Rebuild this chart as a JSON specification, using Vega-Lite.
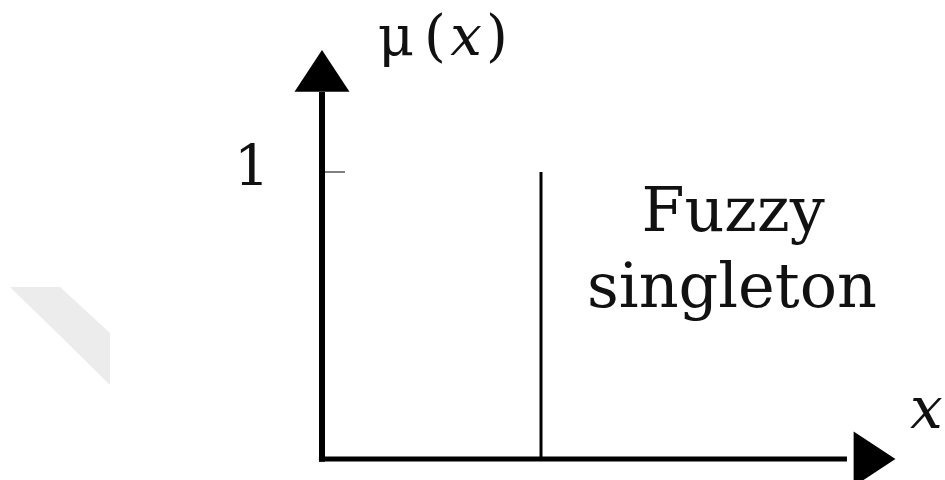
{
  "$schema": "https://vega.github.io/schema/vega-lite/v6.json",
  "width": 945,
  "height": 480,
  "padding": 0,
  "autosize": {"type": "none"},
  "background": "white",
  "config": {"view": {"stroke": null}},
  "datasets": {
    "wm": [
      {"x": -1.425, "y": 0.599, "y2": 0.599},
      {"x": -1.196, "y": 0.599, "y2": 0.429},
      {"x": -0.968, "y": 0.439, "y2": 0.258}
    ],
    "yaxis": [{"x": 0, "y": -0.01, "y2": 1.279}],
    "xaxis": [{"x": -0.014, "x2": 2.397, "y": 0}],
    "tick": [{"x": 0.0137, "x2": 0.105, "y": 1}],
    "single": [{"x": 1, "y": 0, "y2": 1}],
    "arrowUp": [{"x": 0, "y": 1.352}],
    "arrowRight": [{"x": 2.523, "y": 0}],
    "bigText": [
      {"x": 1.877, "y": 0.794, "label": "Fuzzy"},
      {"x": 1.872, "y": 0.53, "label": "singleton"}
    ],
    "plainText": [
      {"x": -0.32, "y": 0.955, "label": "1"},
      {"x": 0.338, "y": 1.408, "label": "μ"},
      {"x": 0.516, "y": 1.408, "label": "("},
      {"x": 0.799, "y": 1.408, "label": ")"}
    ],
    "italicText": [
      {"x": 0.658, "y": 1.408, "label": "x"}
    ],
    "italicLeft": [
      {"x": 2.685, "y": 0.108, "label": "x"}
    ]
  },
  "encoding": {
    "x": {"field": "x", "type": "quantitative", "axis": null, "scale": {"domain": [-1.4703, 2.8447], "nice": false, "zero": false}},
    "y": {"field": "y", "type": "quantitative", "axis": null, "scale": {"domain": [-0.0732, 1.5993], "nice": false, "zero": false}}
  },
  "layer": [
    {
      "data": {"name": "wm"},
      "mark": {"type": "area", "color": "#ececec", "opacity": 1, "interpolate": "linear"},
      "encoding": {"y2": {"field": "y2"}}
    },
    {
      "data": {"name": "yaxis"},
      "mark": {"type": "rule", "color": "black", "strokeWidth": 6},
      "encoding": {"y2": {"field": "y2"}}
    },
    {
      "data": {"name": "xaxis"},
      "mark": {"type": "rule", "color": "black", "strokeWidth": 5},
      "encoding": {"x2": {"field": "x2"}}
    },
    {
      "data": {"name": "tick"},
      "mark": {"type": "rule", "color": "#808080", "strokeWidth": 2},
      "encoding": {"x2": {"field": "x2"}}
    },
    {
      "data": {"name": "single"},
      "mark": {"type": "rule", "color": "black", "strokeWidth": 3},
      "encoding": {"y2": {"field": "y2"}}
    },
    {
      "data": {"name": "arrowUp"},
      "mark": {"type": "point", "shape": "M0,-0.76L1,0.76L-1,0.76Z", "size": 3025, "filled": true, "color": "black", "opacity": 1, "strokeWidth": 0}
    },
    {
      "data": {"name": "arrowRight"},
      "mark": {"type": "point", "shape": "M0.76,0L-0.76,1L-0.76,-1Z", "size": 3025, "filled": true, "color": "black", "opacity": 1, "strokeWidth": 0}
    },
    {
      "data": {"name": "bigText"},
      "mark": {"type": "text", "font": "DejaVu Serif", "fontSize": 62, "align": "center", "baseline": "alphabetic", "color": "#111"},
      "encoding": {"text": {"field": "label"}}
    },
    {
      "data": {"name": "plainText"},
      "mark": {"type": "text", "font": "DejaVu Serif", "fontSize": 56, "align": "center", "baseline": "alphabetic", "color": "#111"},
      "encoding": {"text": {"field": "label"}}
    },
    {
      "data": {"name": "italicText"},
      "mark": {"type": "text", "font": "DejaVu Serif", "fontStyle": "italic", "fontSize": 56, "align": "center", "baseline": "alphabetic", "color": "#111"},
      "encoding": {"text": {"field": "label"}}
    },
    {
      "data": {"name": "italicLeft"},
      "mark": {"type": "text", "font": "DejaVu Serif", "fontStyle": "italic", "fontSize": 58, "align": "left", "baseline": "alphabetic", "color": "#111"},
      "encoding": {"text": {"field": "label"}}
    }
  ]
}
